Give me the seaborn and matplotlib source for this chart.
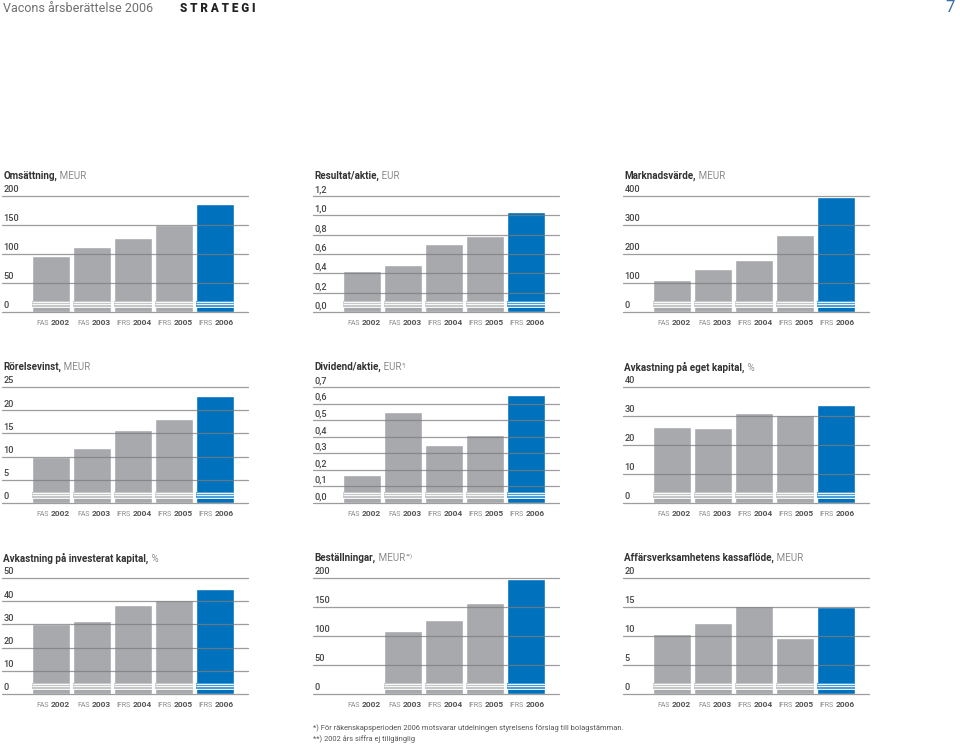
import numpy as np
import pandas as pd
import matplotlib
matplotlib.use("Agg")
import matplotlib.pyplot as plt
from matplotlib.patches import Rectangle
import seaborn as sns

# ------------------------------------------------------------------
# Data
# ------------------------------------------------------------------
years = ["2002", "2003", "2004", "2005", "2006"]
standards = ["FAS", "FAS", "IFRS", "IFRS", "IFRS"]

omsattning = [96.5, 111.5, 127.5, 149.5, 185.5]
resultat_aktie = [0.42, 0.49, 0.70, 0.79, 1.03]
marknadsvarde = [112, 148, 180, 265, 398]
rorelsevinst = [10.0, 11.8, 15.8, 18.1, 23.0]
dividend_aktie = [0.17, 0.55, 0.35, 0.41, 0.65]
avk_eget = [26.2, 26.0, 31.2, 30.4, 33.7]
avk_investerat = [30.3, 31.6, 38.5, 40.6, 45.1]
bestallningar = [np.nan, 108.7, 127.7, 156.6, 198.3]
kassaflode = [10.4, 12.3, 15.2, 9.6, 15.0]

panels = [
    ("Omsättning,", "MEUR", "", omsattning, [0, 50, 100, 150, 200], ["0", "50", "100", "150", "200"]),
    ("Resultat/aktie,", "EUR", "", resultat_aktie, [0, 0.2, 0.4, 0.6, 0.8, 1.0, 1.2],
     ["0,0", "0,2", "0,4", "0,6", "0,8", "1,0", "1,2"]),
    ("Marknadsvärde,", "MEUR", "", marknadsvarde, [0, 100, 200, 300, 400], ["0", "100", "200", "300", "400"]),
    ("Rörelsevinst,", "MEUR", "", rorelsevinst, [0, 5, 10, 15, 20, 25], ["0", "5", "10", "15", "20", "25"]),
    ("Dividend/aktie,", "EUR", "*)", dividend_aktie, [0, 0.1, 0.2, 0.3, 0.4, 0.5, 0.6, 0.7],
     ["0,0", "0,1", "0,2", "0,3", "0,4", "0,5", "0,6", "0,7"]),
    ("Avkastning på eget kapital,", "%", "", avk_eget, [0, 10, 20, 30, 40], ["0", "10", "20", "30", "40"]),
    ("Avkastning på investerat kapital,", "%", "", avk_investerat, [0, 10, 20, 30, 40, 50],
     ["0", "10", "20", "30", "40", "50"]),
    ("Beställningar,", "MEUR", "**)", bestallningar, [0, 50, 100, 150, 200], ["0", "50", "100", "150", "200"]),
    ("Affärsverksamhetens kassaflöde,", "MEUR", "", kassaflode, [0, 5, 10, 15, 20], ["0", "5", "10", "15", "20"]),
]

footnotes = [
    "*) För räkenskapsperioden 2006 motsvarar utdelningen styrelsens förslag till bolagstämman.",
    "**) 2002 års siffra ej tillgänglig",
]

GREY = "#a7a9ac"
BLUE = "#0071bc"
LIGHT = {GREY: "#c6c7c9", BLUE: "#4f9fd8"}
palette = {y: (BLUE if y == "2006" else GREY) for y in years}

# ------------------------------------------------------------------
sns.set_theme(style="white")
plt.rcParams["font.family"] = ["Roboto", "DejaVu Sans"]

fig = plt.figure(figsize=(9.6, 7.44), dpi=100)

W, H = 960, 744
col_left = [2, 313, 623]
row_top = [196, 387, 578]
ax_w, ax_h = 246, 116

for k, (title, unit, sup, values, ticks, ticklabels) in enumerate(panels):
    r, c = divmod(k, 3)
    ax = fig.add_axes([col_left[c] / W, 1 - (row_top[r] + ax_h) / H, ax_w / W, ax_h / H])
    df = pd.DataFrame({"year": years, "value": values})
    sns.barplot(data=df, x="year", y="value", hue="year", order=years, hue_order=years,
                palette=palette, saturation=1, width=0.934, legend=False, ax=ax, zorder=2)

    # light stripes at the foot of each bar
    for p in ax.patches:
        if not np.isfinite(p.get_height()) or p.get_height() <= 0:
            continue
        col = matplotlib.colors.to_hex(p.get_facecolor())
        light = LIGHT.get(col, "#c6c7c9")
        ax.add_patch(Rectangle((p.get_x(), 0.045), p.get_width(), 0.047,
                               transform=ax.get_xaxis_transform(), facecolor=light,
                               edgecolor="none", zorder=2.5))
        for f in (0.090, 0.068, 0.047):
            ax.plot([p.get_x(), p.get_x() + p.get_width()], [f, f], color="white", lw=0.7,
                    alpha=0.9, transform=ax.get_xaxis_transform(), zorder=2.6,
                    solid_capstyle="butt")

    ax.set_xlim(-1.2, 4.8)
    ax.set_ylim(0, ticks[-1])
    sns.despine(ax=ax, left=True, bottom=True)
    ax.set_xlabel("")
    ax.set_ylabel("")
    ax.set_xticks(range(len(years)))
    ax.set_xticklabels([])
    ax.set_yticks(ticks)
    ax.set_yticklabels([])
    ax.tick_params(length=0)

    for v, lbl in zip(ticks, ticklabels):
        ax.axhline(v, color="#7d7d7d", lw=0.9, alpha=0.75, zorder=3, clip_on=False)
        ax.annotate(lbl, xy=(0, v), xycoords=ax.get_yaxis_transform(), xytext=(1, 1.2),
                    textcoords="offset points", ha="left", va="bottom", fontsize=6.6,
                    fontweight="medium", color="#444444", annotation_clip=False)

    for i, (std, yr) in enumerate(zip(standards, years)):
        ax.annotate(std, xy=(i, 0), xycoords=ax.get_xaxis_transform(), xytext=(-1.8, -9.6),
                    textcoords="offset points", ha="right", va="baseline", fontsize=5.0,
                    color="#8a8a8a", annotation_clip=False)
        ax.annotate(yr, xy=(i, 0), xycoords=ax.get_xaxis_transform(), xytext=(-0.6, -9.6),
                    textcoords="offset points", ha="left", va="baseline", fontsize=6.0,
                    fontweight="bold", color="#555555", annotation_clip=False)

    t1 = ax.annotate(title, xy=(0, 1), xycoords="axes fraction", xytext=(1, 14.2),
                     textcoords="offset points", ha="left", va="center", fontsize=7.1,
                     fontweight="semibold", color="#333333", annotation_clip=False)
    t2 = ax.annotate(" " + unit, xy=(1, 0), xycoords=t1, ha="left", va="bottom",
                     fontsize=7.1, color="#8c8c8c", annotation_clip=False)
    if sup:
        ax.annotate(sup, xy=(1, 1), xycoords=t2, xytext=(0.5, 0.5), textcoords="offset points",
                    ha="left", va="top", fontsize=4.2, color="#8c8c8c", annotation_clip=False)

# header
fig.text(3 / W, 1 - 8 / H, "Vacons årsberättelse 2006", ha="left", va="center",
         fontsize=9, color="#707070")
fig.text(180 / W, 1 - 8 / H, "S T R A T E G I", ha="left", va="center",
         fontsize=8.4, fontweight="heavy", color="#222222")
fig.text(955 / W, 1 - 8 / H, "7", ha="right", va="center", fontsize=12, color="#3a6ea5")

# footnotes
fig.text(313 / W, 1 - 728 / H, footnotes[0], ha="left", va="center", fontsize=5.4, color="#555555")
fig.text(313 / W, 1 - 739 / H, footnotes[1], ha="left", va="center", fontsize=5.4, color="#555555")

fig.savefig("out.png", dpi=100)
